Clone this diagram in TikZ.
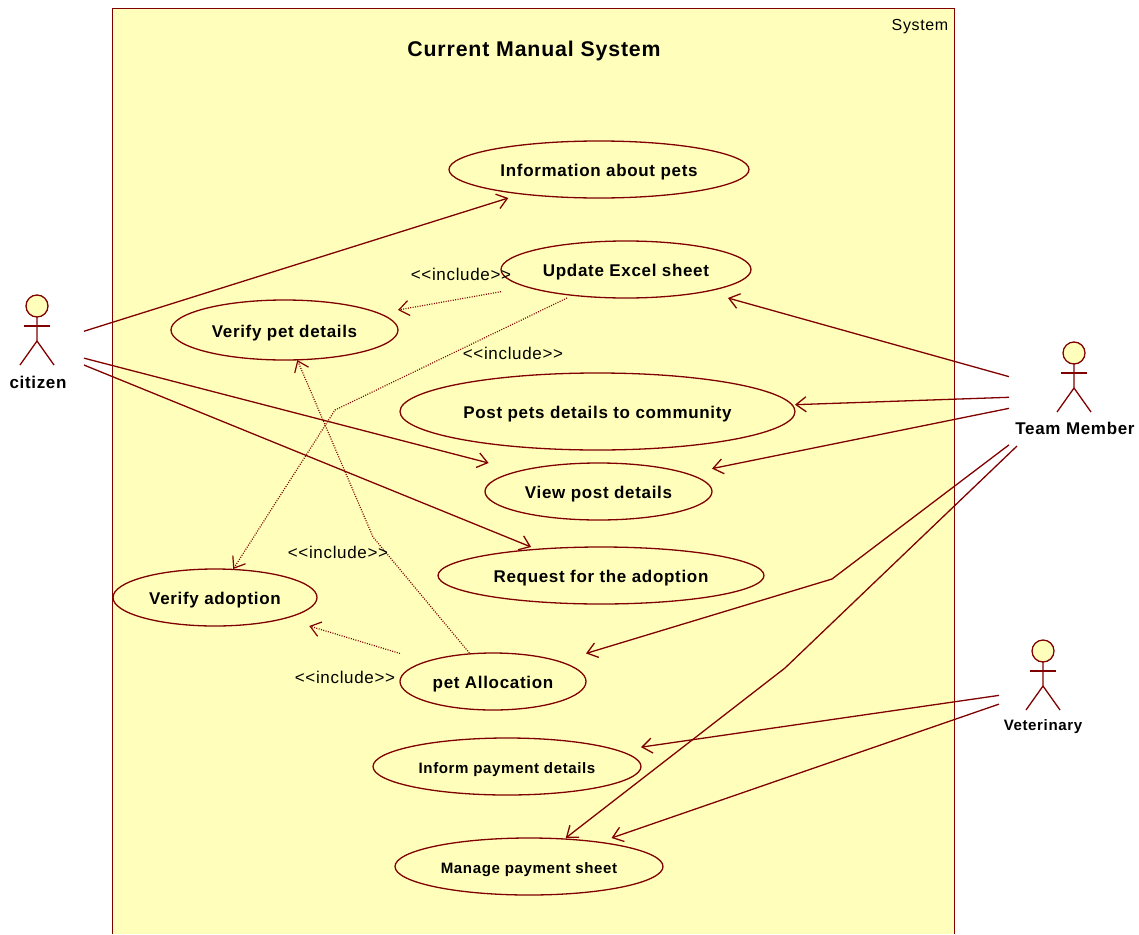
\documentclass[tikz,border=0pt]{standalone}
\usepackage{fontspec}
\setmainfont{Liberation Sans}
\newfontface\labelfont{Liberation Sans Bold}[LetterSpace=4]
\newfontface\stereofont{Liberation Sans}[LetterSpace=4,Ligatures=NoCommon]
\usepackage{tikz}
\usetikzlibrary{arrows.meta}
\definecolor{umlline}{HTML}{800000}
\definecolor{umlfill}{HTML}{FFFFBB}
\tikzset{
  umlpen/.style={draw=umlline,line width=1.3pt},
  ucase/.style={rectangle,inner sep=0pt,outer sep=0pt,text height=14pt,text depth=0pt,font=\labelfont\fontsize{17}{20}\selectfont},
  ucasesmall/.style={ucase,text height=14pt,font=\labelfont\fontsize{15.1}{18}\selectfont},
  actorbox/.style={rectangle,inner sep=0pt,outer sep=0pt},
  assoc/.style={umlpen,-{Straight Barb[length=10pt,width=15pt]}},
  incl/.style={draw=umlline,line width=1.2pt,dash pattern=on 1pt off 1.4pt,-{Straight Barb[length=10pt,width=15pt]}},
  stereo/.style={font=\stereofont\fontsize{17}{20}\selectfont,inner sep=0pt}
}
% name, x, y, half width, half height, text, style
\newcommand{\usecasenode}[7]{
  \draw[umlpen] (#2,#3) ellipse (#4 and #5);
  \node[#7,minimum width=2*#4,minimum height=2*#5] (#1) at (#2,#3) {#6};
}
\newcommand{\actorfig}[2]{
  \draw[umlpen,fill=umlfill] (#1,#2) circle (11);
  \draw[umlpen] (#1,#2+11) -- (#1,#2+35) -- ++(-17,24);
  \draw[umlpen] (#1,#2+35) -- ++(17,24);
  \draw[umlpen] (#1-13,#2+20) -- (#1+13,#2+20);
}
\begin{document}
\begin{tikzpicture}[x=1pt,y=-1pt]
\useasboundingbox (0,0) rectangle (1139,934);
% system frame
\fill[umlfill] (112.5,9) rectangle (954,934);
\draw[draw=umlline,line width=1pt] (112.5,934) -- (112.5,9) -- (954,9) -- (954,934);
\node[font=\stereofont\fontsize{16}{18}\selectfont,inner sep=0pt] (system) at (920,27) {System};
\node[font=\labelfont\fontsize{21.3}{24}\selectfont,inner sep=0pt] (title) at (534,51) {Current Manual System};

% use cases
\usecasenode{info}{599}{169.5}{150}{28.5}{Information about pets}{ucase}
\usecasenode{excel}{626}{269.5}{125}{28.5}{Update Excel sheet}{ucase}
\usecasenode{verifypet}{284.5}{330}{113.5}{30}{Verify pet details}{ucase}
\usecasenode{post}{597.5}{411.5}{197.5}{38.5}{Post pets details to community}{ucase}
\usecasenode{view}{598.5}{491.5}{113.5}{28.5}{View post details}{ucase}
\usecasenode{request}{601}{575.5}{163}{28.5}{Request for the adoption}{ucase}
\usecasenode{verifyad}{215}{597.5}{102}{28.5}{Verify adoption}{ucase}
\usecasenode{alloc}{493}{681.5}{93}{28.5}{pet Allocation}{ucase}
\usecasenode{inform}{507}{766.5}{134}{28.5}{Inform payment details}{ucasesmall}
\usecasenode{manage}{529}{866.5}{134}{28.5}{Manage payment sheet}{ucasesmall}

% actors
\actorfig{37}{306}
\actorfig{1074}{353}
\actorfig{1043}{651}
\node[actorbox,minimum width=94,minimum height=100] (citizen) at (37,346) {};
\node[actorbox,minimum width=132,minimum height=102] (team) at (1075,395) {};
\node[actorbox,minimum width=88,minimum height=100] (vet) at (1043,689) {};
\node[ucase] (citizenlbl) at (38,381) {citizen};
\node[ucase] (teamlbl) at (1075,427) {Team Member};
\node[ucasesmall] (vetlbl) at (1043,723) {Veterinary};

% bends
\coordinate (teamout) at (1017,446);
\coordinate (bendalloc) at (832,579);
\coordinate (bendmanage) at (785,668);
\coordinate (bendad) at (335,410);
\coordinate (bendpet) at (373,537);

\draw[assoc] (citizen) -- (info);
\draw[assoc] (citizen) -- (view);
\draw[assoc] (citizen) -- (request);
\draw[assoc] (team) -- (excel);
\draw[assoc] (team) -- (post);
\draw[assoc] (team) -- (view);
\draw[assoc] (team) -- (bendalloc) -- (alloc);
\draw[assoc] (teamout) -- (bendmanage) -- (manage);
\draw[assoc] (vet) -- (inform);
\draw[assoc] (vet) -- (manage);

\draw[incl] (excel) -- (verifypet);
\draw[incl] (excel) -- (bendad) -- (verifyad);
\draw[incl] (alloc) -- (bendpet) -- (verifypet);
\draw[incl] (alloc) -- (verifyad);

\node[stereo] (incla) at (461,274.5) {<{}<include>{}>};
\node[stereo] (inclb) at (513,353.5) {<{}<include>{}>};
\node[stereo] (inclc) at (338,552.5) {<{}<include>{}>};
\node[stereo] (incld) at (345,677.5) {<{}<include>{}>};
\end{tikzpicture}
\end{document}
